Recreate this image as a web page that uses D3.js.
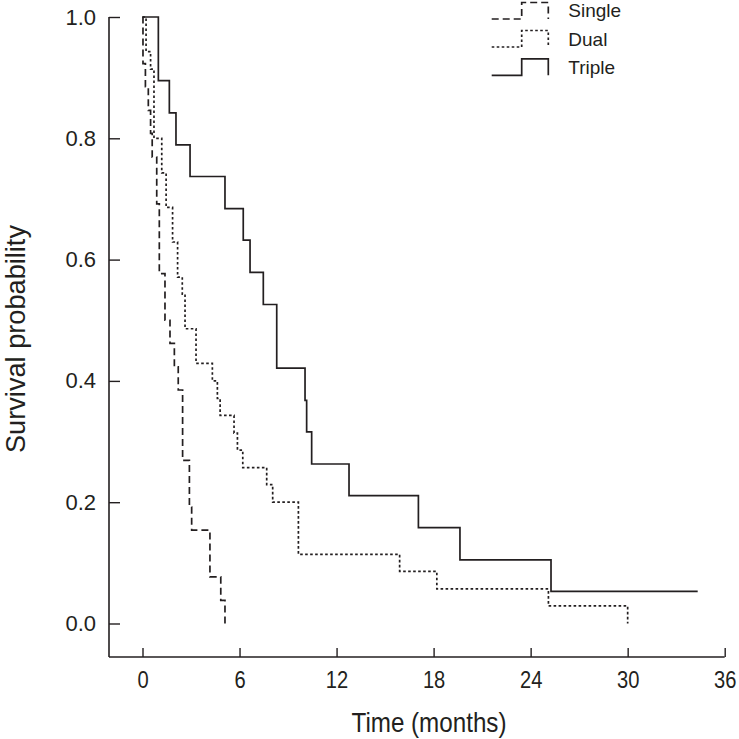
<!DOCTYPE html>
<html>
<head>
<meta charset="utf-8">
<script src="https://cdn.jsdelivr.net/npm/d3@7"></script>
<style>
  html, body { margin: 0; padding: 0; background: #fff; }
  svg { display: block; }
</style>
</head>
<body>
<svg id="chart" width="739" height="739"></svg>
<script>
// ---- Data ----
const seriesNames = ["Single", "Dual", "Triple"];

const singleTime = [0, 0.03, 0.18, 0.36, 0.5, 0.6, 0.88, 1.04, 1.39, 1.7, 1.97, 2.21, 2.48, 2.9, 3.04, 4.17, 4.84, 5.1];
const singleSurv = [1, 0.923, 0.885, 0.846, 0.808, 0.769, 0.692, 0.577, 0.5, 0.462, 0.423, 0.385, 0.269, 0.192, 0.154, 0.077, 0.038, 0];

const dualTime = [0, 0.22, 0.5, 0.71, 1.19, 1.46, 1.86, 2.17, 2.46, 2.63, 3.31, 4.32, 4.63, 4.8, 5.66, 5.87, 6.2, 7.68, 8.05, 9.64, 15.9, 18.2, 25.1, 30.0];
const dualSurv = [1, 0.943, 0.914, 0.8, 0.743, 0.686, 0.629, 0.571, 0.543, 0.486, 0.429, 0.4, 0.371, 0.343, 0.314, 0.286, 0.257, 0.229, 0.2, 0.114, 0.086, 0.057, 0.029, 0];

const tripleTime = [0, 0.98, 1.66, 2.07, 2.94, 5.1, 6.23, 6.65, 7.47, 8.3, 10.05, 10.15, 10.46, 12.77, 17.06, 19.63, 25.26, 34.33];
const tripleSurv = [1, 0.895, 0.842, 0.789, 0.737, 0.684, 0.632, 0.579, 0.526, 0.421, 0.368, 0.316, 0.263, 0.211, 0.158, 0.105, 0.053, 0.053];

const xTicks = [0, 6, 12, 18, 24, 30, 36];
const yTicks = [0, 0.2, 0.4, 0.6, 0.8, 1.0];
const xTitle = "Time (months)";
const yTitle = "Survival probability";

// ---- Layout ----
const ink = "#231f20";
const font = "'Liberation Sans', Arial, sans-serif";
const svg = d3.select("#chart");

const x = d3.scaleLinear().domain([0, 36]).range([142.5, 724.7]);
const y = d3.scaleLinear().domain([0, 1]).range([623.5, 17]);
const axisX = 109;   // position of the y axis line
const axisY = 657;   // position of the x axis line

// y axis
const gy = svg.append("g").attr("transform", `translate(${axisX},0)`)
  .call(d3.axisLeft(y).tickValues(yTicks).tickFormat(d3.format(".1f"))
        .tickSize(-11).tickSizeOuter(0).tickPadding(13));
gy.select(".domain").remove();
gy.selectAll(".tick line").attr("stroke", ink).attr("stroke-width", 1.4);
gy.selectAll(".tick text").attr("fill", ink)
  .style("font-family", font).style("font-size", "22px");
svg.append("line").attr("x1", axisX).attr("x2", axisX).attr("y1", y(1)).attr("y2", axisY)
  .attr("stroke", ink).attr("stroke-width", 1.6);

// x axis
const gx = svg.append("g").attr("transform", `translate(0,${axisY})`)
  .call(d3.axisBottom(x).tickValues(xTicks).tickFormat(d3.format("d"))
        .tickSize(-9).tickSizeOuter(0).tickPadding(14));
gx.select(".domain").remove();
gx.selectAll(".tick line").attr("stroke", ink).attr("stroke-width", 1.4);
gx.selectAll(".tick text").attr("fill", ink)
  .attr("transform", "scale(0.84,1)")
  .style("font-family", font).style("font-size", "24px");
svg.append("line").attr("x1", axisX).attr("x2", x(36)).attr("y1", axisY).attr("y2", axisY)
  .attr("stroke", ink).attr("stroke-width", 1.6);

// titles
svg.append("text").attr("x", 429).attr("y", 732).attr("text-anchor", "middle")
  .attr("fill", ink)
  .attr("textLength", 155).attr("lengthAdjust", "spacingAndGlyphs")
  .style("font-family", font)
  .style("font-size", "28px").text(xTitle);
svg.append("text").attr("transform", "translate(25,339) rotate(-90)")
  .attr("text-anchor", "middle").attr("fill", ink)
  .attr("textLength", 228).attr("lengthAdjust", "spacingAndGlyphs")
  .style("font-family", font)
  .style("font-size", "27px").text(yTitle);

// curves
const styles = {
  Single: { dash: "7,4" },
  Dual: { dash: "2.6,2.4" },
  Triple: { dash: null }
};
const seriesData = {
  Single: singleTime.map((t, i) => [t, singleSurv[i]]),
  Dual: dualTime.map((t, i) => [t, dualSurv[i]]),
  Triple: tripleTime.map((t, i) => [t, tripleSurv[i]])
};
const line = d3.line().x(d => x(d[0])).y(d => y(d[1])).curve(d3.curveStepAfter);

seriesNames.forEach(name => {
  svg.append("path").datum(seriesData[name])
    .attr("d", line)
    .attr("fill", "none")
    .attr("stroke", ink)
    .attr("stroke-width", 1.7)
    .attr("stroke-dasharray", styles[name].dash);
});

// legend
const legX0 = 491.7, legX1 = 521.7, legX2 = 548.3, legTextX = 568.3;
const legLow = [19, 47, 75.3];
const legBase = [17.3, 45.6, 74];
seriesNames.forEach((name, i) => {
  const lo = legLow[i], hi = lo - 16.5;
  svg.append("path")
    .attr("d", `M${legX0},${lo}H${legX1}V${hi}H${legX2}V${lo}`)
    .attr("fill", "none").attr("stroke", ink).attr("stroke-width", 1.7)
    .attr("stroke-dasharray", styles[name].dash);
  svg.append("text").attr("x", legTextX).attr("y", legBase[i]).attr("fill", ink)
    .style("font-family", font).style("font-size", "19px")
    .text(name);
});
</script>
</body>
</html>
